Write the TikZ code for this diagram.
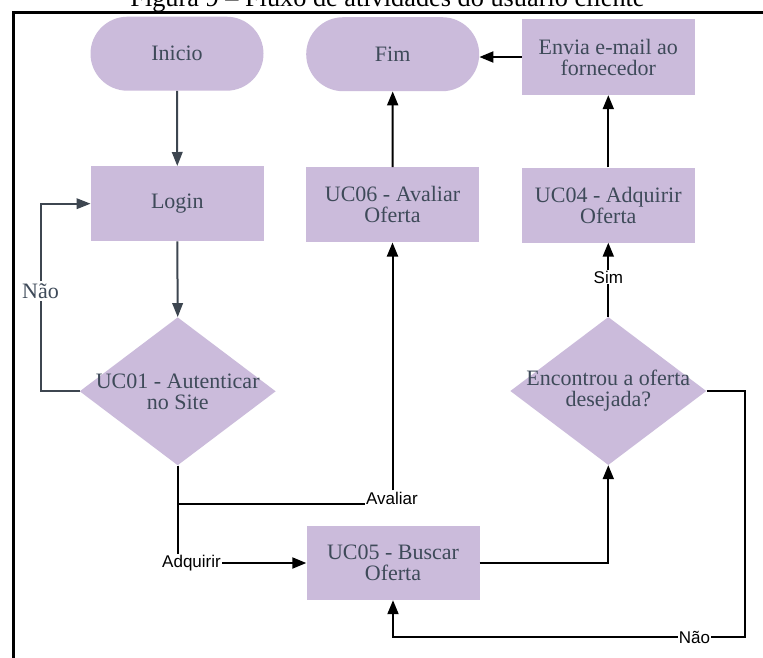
\documentclass[tikz,border=0pt]{standalone}
\usepackage{fontspec}
\setmainfont{Liberation Serif}
\newfontfamily\lblfont{Liberation Sans}
\usetikzlibrary{arrows.meta,shapes.geometric}
\definecolor{lav}{HTML}{CBBBDB}
\definecolor{txt}{HTML}{3E4A59}
\definecolor{gline}{HTML}{3D4650}
\begin{document}
\begin{tikzpicture}[x=1pt,y=-1pt,
  nodefont/.style={font=\fontsize{22}{21}\selectfont},
  box/.style={nodefont, fill=lav, text=txt, minimum width=173pt, minimum height=75pt, inner sep=0pt, align=center},
  term/.style={box, rounded corners=37pt, minimum height=74pt},
  dec/.style={diamond, fill=lav, minimum width=196pt, minimum height=148pt, inner sep=0pt},
  dectext/.style={nodefont, text=txt, align=center},
  lbl/.style={font=\lblfont\fontsize{17}{19}\selectfont, text=black, inner sep=1pt},
  glbl/.style={nodefont, text=txt, inner sep=2pt},
  gl/.style={draw=gline, line width=2pt},
  garr/.style={gl, -{Triangle[length=14pt,width=10.5pt]}},
  bl/.style={draw=black, line width=2pt},
  barr/.style={bl, -{Triangle[length=14pt,width=11pt]}}
]
\useasboundingbox (0,0) rectangle (763,657);
\clip (0,0) rectangle (763,657);
\fill[white] (0,0) rectangle (763,657);

% title (partly cut off at the top)
\node[font=\fontsize{26.3}{30}\selectfont, anchor=base, inner sep=0pt] (ttl) at (387.5,6.5) {Figura 9 – Fluxo de atividades do usuário cliente};

% frame
\draw[line width=3.3pt, line join=miter] (13.8,660) -- (13.8,12.3) -- (766,12.3);

% nodes
\node[term] (ini) at (177,53.7) {Inicio};
\node[term] (fim) at (392.7,54.2) {Fim};
\node[box, minimum height=76pt] (env) at (608.3,57) {Envia e-mail ao\\fornecedor};
\node[box] (login) at (177.3,203.7) {Login};
\node[box] (uc06) at (392.5,204.8) {UC06 - Avaliar\\Oferta};
\node[box] (uc04) at (608.3,205) {UC04 - Adquirir\\Oferta};
\node[dec] (u01) at (177.7,391.3) {};
\node[dectext] (u01t) at (u01.center) {UC01 - Autenticar\\no Site};
\node[dec] (enc) at (608.3,391) {};
\node[dectext] (enct) at (enc.center) {Encontrou a oferta\\desejada?};
\node[box, minimum height=74pt] (uc05) at (393,563) {UC05 - Buscar\\Oferta};

% labels
\node[glbl] (nao1) at (40.5,291) {Não};
\node[lbl, anchor=base] (avl) at (392,504) {Avaliar};
\node[lbl, anchor=east] (adq) at (222,563) {Adquirir};
\node[lbl] (sim) at (608.3,277) {Sim};
\node[lbl] (nao2) at (694.5,637) {Não};
\coordinate (c1) at (745,637);

% gray connectors
\draw[garr] (ini.south) -- (login.north);
\draw[garr] (login.south) -- (u01.north);
\draw[gl] (u01.west) -| (nao1.south);
\draw[garr] (nao1.north) |- (login.west);

% black connectors
\draw[bl] (u01.south) |- (avl.base west);
\draw[bl] (u01.south) -- (u01.south |- adq.north);
\draw[barr] (uc06.south |- avl.north) -- (uc06.south);
\draw[barr] (adq.east) -- (uc05.west);
\draw[barr] (uc05.east) -| (enc.south);
\draw[bl] (enc.north) -- (sim.south);
\draw[barr] (sim.north) -- (uc04.south);
\draw[bl] (enc.east) -| (c1) -- (nao2.east);
\draw[barr] (nao2.west) -| (uc05.south);
\draw[barr] (uc06.north) -- (fim.south);
\draw[barr] (uc04.north) -- (env.south);
\draw[barr] (env.west) -- (fim.east |- env.west);
\end{tikzpicture}
\end{document}
